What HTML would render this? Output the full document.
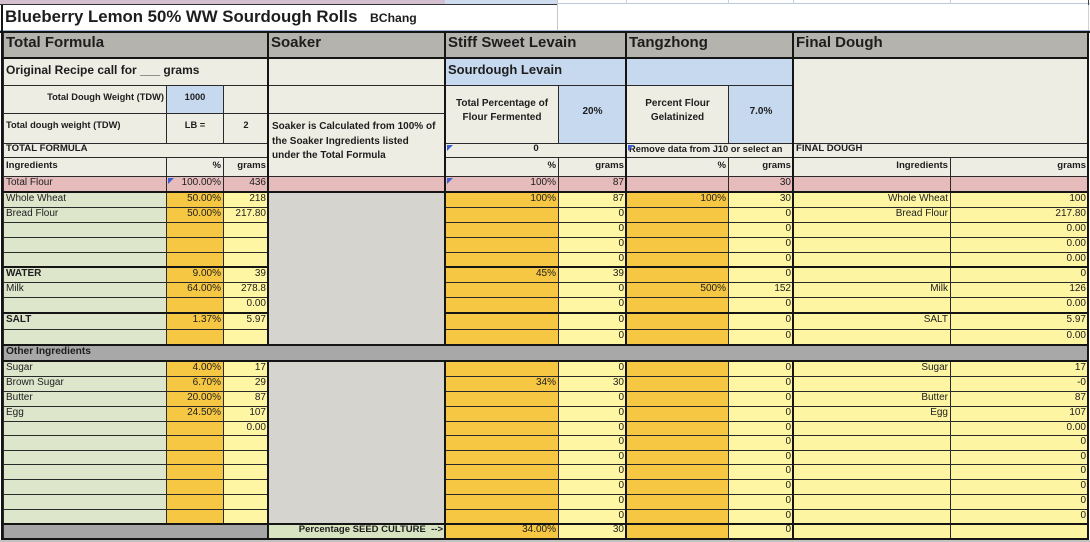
<!DOCTYPE html>
<html><head><meta charset="utf-8">
<style>
html,body{margin:0;padding:0;background:#fff;}
#s{position:relative;width:1090px;height:542px;overflow:hidden;font-family:"Liberation Sans",Arial,sans-serif;color:#1d1d1d;background:#fff}
.c{position:absolute;box-sizing:border-box;border:1px solid #2a2a2a;overflow:hidden;white-space:nowrap;font-size:10px;line-height:12px}
.l{text-align:left;padding-left:2px}
.r{text-align:right;padding-right:2px}
.m{text-align:center}
.b{font-weight:bold}
.G{background:#b4b3ad}
.BE{background:#eeede4}
.BL{background:#c6d9ef}
.PK{background:#e6bbbb}
.hd{font-size:15px;font-weight:bold;line-height:19.5px;padding-left:2px}
.row{position:absolute;left:0;width:1090px}
.row .c{top:0;height:100%}
.a{left:3px;width:164px}
.bb{left:166px;width:58px}
.cc{left:223px;width:46px}
.sk{left:268px;width:178px}
.lp{left:445px;width:114px}
.lg{left:558px;width:69px}
.tp{left:626px;width:103px}
.tg{left:728px;width:66px}
.fi{left:793px;width:158px}
.fg{left:950px;width:139px}
.d .a{background:#dde5cb}
.d .bb,.d .lp,.d .tp{background:#f6c743}
.d .cc,.d .lg,.d .tg{background:#fef6a2}
.d .fi,.d .fg{background:#fdf5a1}
.h{position:absolute;background:#151515}
.tri{position:absolute;width:0;height:0;border-top:6px solid #3b5fd6;border-right:6px solid transparent}
</style></head><body><div id="s">

<!-- top strip -->
<div style="position:absolute;left:0;top:0;width:445px;height:4px;background:#d3bfd0"></div>
<div style="position:absolute;left:445px;top:0;width:113px;height:4px;background:#cddcef"></div>
<div style="position:absolute;left:558px;top:3px;width:532px;height:1px;background:#b9c9dd"></div>
<div style="position:absolute;left:626px;top:0;width:1px;height:4px;background:#c8d0da"></div>
<div style="position:absolute;left:728px;top:0;width:1px;height:4px;background:#c8d0da"></div>
<div style="position:absolute;left:793px;top:0;width:1px;height:4px;background:#c8d0da"></div>
<div style="position:absolute;left:950px;top:0;width:1px;height:4px;background:#c8d0da"></div>
<div style="position:absolute;left:1088px;top:0;width:1px;height:5px;background:#444"></div>
<div style="position:absolute;left:1088px;top:5px;width:1px;height:26px;background:#d0d0d0"></div>
<div style="position:absolute;left:0;top:4px;width:558px;height:1px;background:#333"></div>
<div style="position:absolute;left:557px;top:0;width:1px;height:31px;background:#c8c8c8"></div>

<!-- title -->
<div style="position:absolute;left:5px;top:5px;height:24px;line-height:24px;font-size:16.8px;font-weight:bold;white-space:nowrap">Blueberry Lemon 50% WW Sourdough Rolls</div>
<div style="position:absolute;left:370px;top:8px;height:20px;line-height:20px;font-size:12.2px;font-weight:bold;white-space:nowrap">BChang</div>
<div style="position:absolute;left:0;top:30px;width:1090px;height:1px;background:#9fb4d0"></div>

<!-- header row -->
<div class="c G hd" style="left:3px;top:32px;width:266px;height:27px">Total Formula</div>
<div class="c G hd" style="left:268px;top:32px;width:178px;height:27px">Soaker</div>
<div class="c G hd" style="left:445px;top:32px;width:182px;height:27px">Stiff Sweet Levain</div>
<div class="c G hd" style="left:626px;top:32px;width:168px;height:27px">Tangzhong</div>
<div class="c G hd" style="left:793px;top:32px;width:296px;height:27px">Final Dough</div>

<!-- row 58 -->
<div class="c BE b l" style="left:3px;top:58px;width:266px;height:28px;font-size:12px;line-height:22px">Original Recipe call for ___ grams</div>
<div class="c BE" style="left:268px;top:58px;width:178px;height:28px"></div>
<div class="c BL b l" style="left:445px;top:58px;width:182px;height:28px;font-size:13px;line-height:21.5px">Sourdough Levain</div>
<div class="c BL" style="left:626px;top:58px;width:168px;height:28px"></div>
<div class="c BE" style="left:793px;top:58px;width:296px;height:86px"></div>

<!-- row 85 -->
<div class="c BE b r" style="left:3px;top:85px;width:164px;height:29px;font-size:9.3px;line-height:22px">Total Dough Weight (TDW)</div>
<div class="c BL b m" style="left:166px;top:85px;width:58px;height:29px;font-size:9.3px;line-height:22px">1000</div>
<div class="c BE" style="left:223px;top:85px;width:46px;height:29px"></div>
<div class="c BE" style="left:268px;top:85px;width:178px;height:29px"></div>
<div class="c BE b m" style="left:445px;top:85px;width:114px;height:59px;line-height:14px;padding-top:11px">Total Percentage of<br>Flour Fermented</div>
<div class="c BL b m" style="left:558px;top:85px;width:69px;height:59px;line-height:51px">20%</div>
<div class="c BE b m" style="left:626px;top:85px;width:103px;height:59px;line-height:14px;padding-top:11px">Percent Flour<br>Gelatinized</div>
<div class="c BL b m" style="left:728px;top:85px;width:66px;height:59px;line-height:51px">7.0%</div>

<!-- row 113 -->
<div class="c BE b l" style="left:3px;top:113px;width:164px;height:31px;font-size:9.3px;line-height:22px">Total dough weight (TDW)</div>
<div class="c BE b m" style="left:166px;top:113px;width:58px;height:31px;font-size:9.3px;line-height:22px">LB =</div>
<div class="c BE b m" style="left:223px;top:113px;width:46px;height:31px;font-size:9.3px;line-height:22px">2</div>
<div class="c BE b" style="left:268px;top:113px;width:178px;height:64px;line-height:14.5px;padding:6px 0 0 3px">Soaker is Calculated from 100% of<br>the Soaker Ingredients listed<br>under the Total Formula</div>

<!-- row 143 -->
<div class="c BE b l" style="left:3px;top:143px;width:266px;height:15px;font-size:9.6px;line-height:10px">TOTAL FORMULA</div>
<div class="c BE b m" style="left:445px;top:143px;width:182px;height:15px;font-size:9.6px;line-height:10px">0</div>
<div class="c BE b l" style="left:626px;top:143px;width:168px;height:15px;font-size:9.3px;line-height:10px">Remove data from J10 or select an</div>
<div class="c BE b l" style="left:793px;top:143px;width:296px;height:15px;font-size:9.6px;line-height:10px">FINAL DOUGH</div>

<!-- row 157 -->
<div class="row" style="top:157px;height:20px">
<div class="c a BE b l" style="font-size:9.6px;line-height:15px">Ingredients</div>
<div class="c bb BE b r" style="font-size:9.6px;line-height:15px">%</div>
<div class="c cc BE b r" style="font-size:9.6px;line-height:15px">grams</div>
<div class="c lp BE b r" style="font-size:9.6px;line-height:15px">%</div>
<div class="c lg BE b r" style="font-size:9.6px;line-height:15px">grams</div>
<div class="c tp BE b r" style="font-size:9.6px;line-height:15px">%</div>
<div class="c tg BE b r" style="font-size:9.6px;line-height:15px">grams</div>
<div class="c fi BE b r" style="font-size:9.6px;line-height:15px">Ingredients</div>
<div class="c fg BE b r" style="font-size:9.6px;line-height:15px">grams</div>
</div>

<!-- pink row -->
<div class="row" style="top:176px;height:17px">
<div class="c a PK l" style="line-height:11px">Total Flour</div>
<div class="c bb PK r" style="line-height:11px">100.00%</div>
<div class="c cc PK r" style="line-height:11px">436</div>
<div class="c sk PK"></div>
<div class="c lp PK r" style="line-height:11px">100%</div>
<div class="c lg PK r" style="line-height:11px">87</div>
<div class="c tp PK"></div>
<div class="c tg PK r" style="line-height:11px">30</div>
<div class="c fi PK"></div>
<div class="c fg PK"></div>
</div>

<!-- soaker gray blocks -->
<div class="c" style="left:268px;top:192px;width:178px;height:154px;background:#d5d4ce"></div>
<div class="c" style="left:268px;top:361px;width:178px;height:164px;background:#d5d4ce"></div>

<!-- data rows -->
<div class="row d" style="top:192px;height:16px"><div class="c a l">Whole Wheat</div><div class="c bb r">50.00%</div><div class="c cc r">218</div><div class="c lp r">100%</div><div class="c lg r">87</div><div class="c tp r">100%</div><div class="c tg r">30</div><div class="c fi r">Whole Wheat</div><div class="c fg r">100</div></div>
<div class="row d" style="top:207px;height:16px"><div class="c a l">Bread Flour</div><div class="c bb r">50.00%</div><div class="c cc r">217.80</div><div class="c lp r"></div><div class="c lg r">0</div><div class="c tp r"></div><div class="c tg r">0</div><div class="c fi r">Bread Flour</div><div class="c fg r">217.80</div></div>
<div class="row d" style="top:222px;height:16px"><div class="c a l"></div><div class="c bb r"></div><div class="c cc r"></div><div class="c lp r"></div><div class="c lg r">0</div><div class="c tp r"></div><div class="c tg r">0</div><div class="c fi r"></div><div class="c fg r">0.00</div></div>
<div class="row d" style="top:237px;height:16px"><div class="c a l"></div><div class="c bb r"></div><div class="c cc r"></div><div class="c lp r"></div><div class="c lg r">0</div><div class="c tp r"></div><div class="c tg r">0</div><div class="c fi r"></div><div class="c fg r">0.00</div></div>
<div class="row d" style="top:252px;height:16px"><div class="c a l"></div><div class="c bb r"></div><div class="c cc r"></div><div class="c lp r"></div><div class="c lg r">0</div><div class="c tp r"></div><div class="c tg r">0</div><div class="c fi r"></div><div class="c fg r">0.00</div></div>
<div class="row d" style="top:267px;height:16px"><div class="c a l b">WATER</div><div class="c bb r">9.00%</div><div class="c cc r">39</div><div class="c lp r">45%</div><div class="c lg r">39</div><div class="c tp r"></div><div class="c tg r">0</div><div class="c fi r"></div><div class="c fg r">0</div></div>
<div class="row d" style="top:282px;height:16px"><div class="c a l">Milk</div><div class="c bb r">64.00%</div><div class="c cc r">278.8</div><div class="c lp r"></div><div class="c lg r">0</div><div class="c tp r">500%</div><div class="c tg r">152</div><div class="c fi r">Milk</div><div class="c fg r">126</div></div>
<div class="row d" style="top:297px;height:17px"><div class="c a l"></div><div class="c bb r"></div><div class="c cc r">0.00</div><div class="c lp r"></div><div class="c lg r">0</div><div class="c tp r"></div><div class="c tg r">0</div><div class="c fi r"></div><div class="c fg r">0.00</div></div>
<div class="row d" style="top:313px;height:17px"><div class="c a l b">SALT</div><div class="c bb r">1.37%</div><div class="c cc r">5.97</div><div class="c lp r"></div><div class="c lg r">0</div><div class="c tp r"></div><div class="c tg r">0</div><div class="c fi r">SALT</div><div class="c fg r">5.97</div></div>
<div class="row d" style="top:329px;height:17px"><div class="c a l"></div><div class="c bb r"></div><div class="c cc r"></div><div class="c lp r"></div><div class="c lg r">0</div><div class="c tp r"></div><div class="c tg r">0</div><div class="c fi r"></div><div class="c fg r">0.00</div></div>

<div class="c b l" style="left:3px;top:345px;width:1086px;height:17px;background:#a8a8a8;font-size:10.2px;line-height:12px">Other Ingredients</div>

<div class="row d" style="top:361px;height:16px"><div class="c a l">Sugar</div><div class="c bb r">4.00%</div><div class="c cc r">17</div><div class="c lp r"></div><div class="c lg r">0</div><div class="c tp r"></div><div class="c tg r">0</div><div class="c fi r">Sugar</div><div class="c fg r">17</div></div>
<div class="row d" style="top:376px;height:16px"><div class="c a l">Brown Sugar</div><div class="c bb r">6.70%</div><div class="c cc r">29</div><div class="c lp r">34%</div><div class="c lg r">30</div><div class="c tp r"></div><div class="c tg r">0</div><div class="c fi r"></div><div class="c fg r">-0</div></div>
<div class="row d" style="top:391px;height:16px"><div class="c a l">Butter</div><div class="c bb r">20.00%</div><div class="c cc r">87</div><div class="c lp r"></div><div class="c lg r">0</div><div class="c tp r"></div><div class="c tg r">0</div><div class="c fi r">Butter</div><div class="c fg r">87</div></div>
<div class="row d" style="top:406px;height:16px"><div class="c a l">Egg</div><div class="c bb r">24.50%</div><div class="c cc r">107</div><div class="c lp r"></div><div class="c lg r">0</div><div class="c tp r"></div><div class="c tg r">0</div><div class="c fi r">Egg</div><div class="c fg r">107</div></div>
<div class="row d" style="top:421px;height:15px"><div class="c a l"></div><div class="c bb r"></div><div class="c cc r">0.00</div><div class="c lp r"></div><div class="c lg r">0</div><div class="c tp r"></div><div class="c tg r">0</div><div class="c fi r"></div><div class="c fg r">0.00</div></div>
<div class="row d" style="top:435px;height:16px"><div class="c a l"></div><div class="c bb r"></div><div class="c cc r"></div><div class="c lp r"></div><div class="c lg r">0</div><div class="c tp r"></div><div class="c tg r">0</div><div class="c fi r"></div><div class="c fg r">0</div></div>
<div class="row d" style="top:450px;height:15px"><div class="c a l"></div><div class="c bb r"></div><div class="c cc r"></div><div class="c lp r"></div><div class="c lg r">0</div><div class="c tp r"></div><div class="c tg r">0</div><div class="c fi r"></div><div class="c fg r">0</div></div>
<div class="row d" style="top:464px;height:16px"><div class="c a l"></div><div class="c bb r"></div><div class="c cc r"></div><div class="c lp r"></div><div class="c lg r">0</div><div class="c tp r"></div><div class="c tg r">0</div><div class="c fi r"></div><div class="c fg r">0</div></div>
<div class="row d" style="top:479px;height:16px"><div class="c a l"></div><div class="c bb r"></div><div class="c cc r"></div><div class="c lp r"></div><div class="c lg r">0</div><div class="c tp r"></div><div class="c tg r">0</div><div class="c fi r"></div><div class="c fg r">0</div></div>
<div class="row d" style="top:494px;height:16px"><div class="c a l"></div><div class="c bb r"></div><div class="c cc r"></div><div class="c lp r"></div><div class="c lg r">0</div><div class="c tp r"></div><div class="c tg r">0</div><div class="c fi r"></div><div class="c fg r">0</div></div>
<div class="row d" style="top:509px;height:16px"><div class="c a l"></div><div class="c bb r"></div><div class="c cc r"></div><div class="c lp r"></div><div class="c lg r">0</div><div class="c tp r"></div><div class="c tg r">0</div><div class="c fi r"></div><div class="c fg r">0</div></div>

<!-- bottom row -->
<div class="row d" style="top:524px;height:16px">
<div class="c" style="left:3px;width:266px;background:#a6a6a6"></div>
<div class="c sk r b" style="background:#d8e3c2;font-size:9.5px;line-height:10px">Percentage SEED CULTURE&nbsp;&nbsp;--&gt;</div>
<div class="c lp r" style="line-height:10px">34.00%</div><div class="c lg r" style="line-height:10px">30</div><div class="c tp r"></div><div class="c tg r" style="line-height:10px">0</div><div class="c fi r"></div><div class="c fg r"></div>
</div>
<div style="position:absolute;left:0;top:540px;width:1090px;height:2px;background:#c2c2c2"></div>

<!-- thick lines -->
<div class="h" style="left:0;top:31px;width:1090px;height:2px"></div>
<div class="h" style="left:1px;top:57px;width:1088px;height:2px"></div>
<div class="h" style="left:1px;top:191px;width:1088px;height:2px"></div>
<div class="h" style="left:1px;top:266px;width:268px;height:2px"></div>
<div class="h" style="left:445px;top:266px;width:644px;height:2px"></div>
<div class="h" style="left:1px;top:312px;width:268px;height:2px"></div>
<div class="h" style="left:445px;top:312px;width:644px;height:2px"></div>
<div class="h" style="left:1px;top:344px;width:1088px;height:2px"></div>
<div class="h" style="left:1px;top:360px;width:1088px;height:2px"></div>
<div class="h" style="left:1px;top:523px;width:1088px;height:2px"></div>
<div class="h" style="left:1px;top:538px;width:1088px;height:2px"></div>

<div class="h" style="left:1px;top:5px;width:2px;height:535px"></div>
<div class="h" style="left:267px;top:31px;width:2px;height:314px"></div>
<div class="h" style="left:267px;top:361px;width:2px;height:179px"></div>
<div class="h" style="left:444px;top:31px;width:2px;height:314px"></div>
<div class="h" style="left:444px;top:361px;width:2px;height:179px"></div>
<div class="h" style="left:625px;top:31px;width:2px;height:314px"></div>
<div class="h" style="left:625px;top:361px;width:2px;height:179px"></div>
<div class="h" style="left:792px;top:31px;width:2px;height:314px"></div>
<div class="h" style="left:792px;top:361px;width:2px;height:179px"></div>
<div class="h" style="left:1087px;top:31px;width:2px;height:509px"></div>

<!-- blue triangles -->
<div class="tri" style="left:168px;top:178px"></div>
<div class="tri" style="left:447px;top:178px"></div>
<div class="tri" style="left:447px;top:145px"></div>
<div class="tri" style="left:628px;top:145px"></div>

</div></body></html>
